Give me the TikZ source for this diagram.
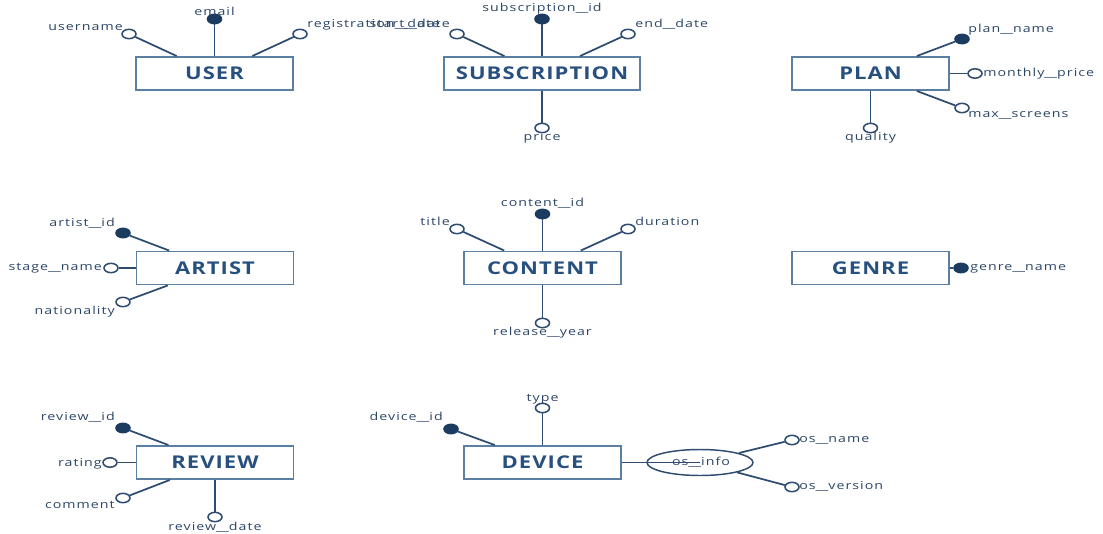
\documentclass[tikz,border=0pt]{standalone}
\usepackage{fontspec}
\usepackage{graphicx}
\usetikzlibrary{shapes.geometric}
\setmainfont{Open Sans}
\newfontfamily\attrfont[FakeStretch=1.29,LetterSpace=9.5]{Open Sans}
\newfontfamily\entfont[FakeStretch=1.25,LetterSpace=6]{Open Sans}
\newcommand\wus{\scalebox{2}[1]{\_}}

\definecolor{entborder}{HTML}{5B7EA3}
\definecolor{enttext}{HTML}{27507F}
\definecolor{linkcol}{HTML}{2E4C70}
\definecolor{lblcol}{HTML}{2B4567}
\definecolor{keyfill}{HTML}{1B3B61}

\tikzset{
  entity/.style={draw=entborder, line width=1.45pt, fill=white, inner sep=0pt,
    minimum width=117.75pt, minimum height=24.75pt, text=enttext,
    font=\entfont\bfseries\fontsize{13.2}{15}\selectfont},
  attr/.style={ellipse, draw=linkcol, line width=1.15pt, fill=white, inner sep=0pt,
    minimum width=10.5pt, minimum height=7pt},
  keyattr/.style={attr, fill=keyfill, draw=keyfill},
  composite/.style={ellipse, draw=linkcol, line width=1.1pt, inner sep=0pt,
    minimum width=79.5pt, minimum height=19.5pt},
  lbl/.style={inner sep=0pt, text=lblcol, font=\attrfont\fontsize{8.25}{9}\selectfont},
  link/.style={draw=linkcol, line width=1.3pt},
}

\begin{document}
\begin{tikzpicture}[x=0.75pt, y=-0.75pt]
\useasboundingbox (0,0) rectangle (1103,533);

% ---------------- entities ----------------
\node[entity] (user) at (214.5,73.5) {USER};
\node[entity, minimum width=147pt] (subscription) at (542,73.5) {SUBSCRIPTION};
\node[entity] (plan) at (870.5,73.5) {PLAN};
\node[entity] (artist) at (215,268) {ARTIST};
\node[entity] (content) at (542.5,268) {CONTENT};
\node[entity] (genre) at (870.5,268) {GENRE};
\node[entity] (review) at (215,462.5) {REVIEW};
\node[entity] (device) at (542.5,462.5) {DEVICE};

% ---------------- USER ----------------
\node[attr] (u-username) at (129,34) {};
\node[keyattr] (u-email) at (214.5,19) {};
\node[attr] (u-regdate) at (300,34) {};
\node[lbl, anchor=mid east] (l-username) at (123,27) {username};
\node[lbl, anchor=mid] (l-email) at (214.5,12) {email};
\node[lbl, anchor=mid west] (l-regdate) at (307,24) {registration\wus date};

% ---------------- SUBSCRIPTION ----------------
\node[attr] (s-start) at (457,34) {};
\node[keyattr] (s-id) at (542,19) {};
\node[attr] (s-end) at (628,34) {};
\node[attr] (s-price) at (542,128) {};
\node[lbl, anchor=mid east] (l-start) at (450,24) {start\wus date};
\node[lbl, anchor=mid] (l-subid) at (542,8) {subscription\wus id};
\node[lbl, anchor=mid west] (l-end) at (635,24) {end\wus date};
\node[lbl, anchor=mid] (l-price) at (542,137) {price};

% ---------------- PLAN ----------------
\node[keyattr] (p-name) at (962,39) {};
\node[attr] (p-monthly) at (975,73.5) {};
\node[attr] (p-max) at (962,108) {};
\node[attr] (p-quality) at (870.5,128) {};
\node[lbl, anchor=mid west] (l-pname) at (968,29) {plan\wus name};
\node[lbl, anchor=mid west] (l-monthly) at (983,73) {monthly\wus price};
\node[lbl, anchor=mid west] (l-max) at (968,114) {max\wus screens};
\node[lbl, anchor=mid] (l-quality) at (870.5,137) {quality};

% ---------------- ARTIST ----------------
\node[keyattr] (a-id) at (123,233) {};
\node[attr] (a-stage) at (111,268) {};
\node[attr] (a-nat) at (123,302) {};
\node[lbl, anchor=mid east] (l-aid) at (115,223) {artist\wus id};
\node[lbl, anchor=mid east] (l-stage) at (102,267) {stage\wus name};
\node[lbl, anchor=mid east] (l-nat) at (115,311) {nationality};

% ---------------- CONTENT ----------------
\node[attr] (c-title) at (457,229) {};
\node[keyattr] (c-id) at (542.5,214) {};
\node[attr] (c-dur) at (628,229) {};
\node[attr] (c-year) at (542.5,323) {};
\node[lbl, anchor=mid east] (l-title) at (450,222) {title};
\node[lbl, anchor=mid] (l-cid) at (542.5,203) {content\wus id};
\node[lbl, anchor=mid west] (l-dur) at (635,222) {duration};
\node[lbl, anchor=mid] (l-year) at (542.5,332) {release\wus year};

% ---------------- GENRE ----------------
\node[keyattr] (g-name) at (961,268) {};
\node[lbl, anchor=mid west] (l-gname) at (970,267) {genre\wus name};

% ---------------- REVIEW ----------------
\node[keyattr] (r-id) at (123,428) {};
\node[attr] (r-rating) at (110,462.5) {};
\node[attr] (r-comment) at (123,498) {};
\node[attr] (r-date) at (215,517) {};
\node[lbl, anchor=mid east] (l-rid) at (115,417) {review\wus id};
\node[lbl, anchor=mid east] (l-rating) at (102,463) {rating};
\node[lbl, anchor=mid east] (l-comment) at (115,505) {comment};
\node[lbl, anchor=mid] (l-rdate) at (215,527) {review\wus date};

% ---------------- DEVICE ----------------
\node[keyattr] (d-id) at (451,429) {};
\node[attr] (d-type) at (542.5,408) {};
\node[composite] (d-os) at (700,462.5) {};
\node[attr] (d-osname) at (792,440) {};
\node[attr] (d-osver) at (792,487) {};
\node[lbl, anchor=mid east] (l-did) at (443,417) {device\wus id};
\node[lbl, anchor=mid] (l-type) at (542.5,398) {type};
\node[lbl, anchor=mid west] (l-osname) at (799,439) {os\wus name};
\node[lbl, anchor=mid west] (l-osver) at (799,486) {os\wus version};
\node[lbl, anchor=mid] (l-os) at (701,462) {os\wus info};

% ---------------- connectors ----------------
\draw[link] (user) -- (u-username);
\draw[link] (user) -- (u-email);
\draw[link] (user) -- (u-regdate);
\draw[link] (subscription) -- (s-start);
\draw[link] (subscription) -- (s-id);
\draw[link] (subscription) -- (s-end);
\draw[link] (subscription) -- (s-price);
\draw[link] (plan) -- (p-name);
\draw[link] (plan) -- (p-monthly);
\draw[link] (plan) -- (p-max);
\draw[link] (plan) -- (p-quality);
\draw[link] (artist) -- (a-id);
\draw[link] (artist) -- (a-stage);
\draw[link] (artist) -- (a-nat);
\draw[link] (content) -- (c-title);
\draw[link] (content) -- (c-id);
\draw[link] (content) -- (c-dur);
\draw[link] (content) -- (c-year);
\draw[link] (genre) -- (g-name);
\draw[link] (review) -- (r-id);
\draw[link] (review) -- (r-rating);
\draw[link] (review) -- (r-comment);
\draw[link] (review) -- (r-date);
\draw[link] (device) -- (d-id);
\draw[link] (device) -- (d-type);
\draw[link] (device) -- (d-os.center);
\draw[link] (d-os) -- (d-osname);
\draw[link] (d-os) -- (d-osver);
\end{tikzpicture}
\end{document}
